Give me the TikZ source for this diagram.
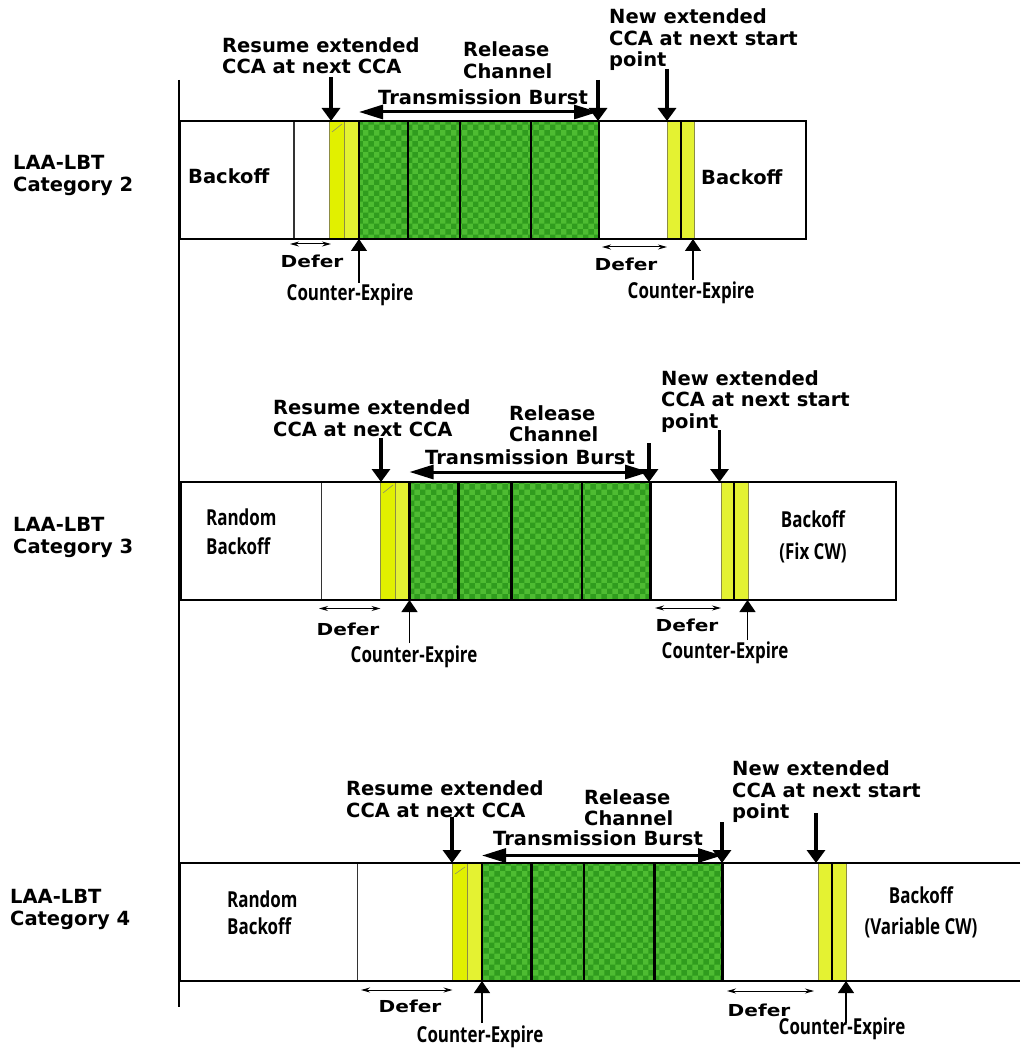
\documentclass[tikz,border=0pt]{standalone}
\usepackage{fontspec}
\setmainfont{DejaVu Sans}
\newfontfamily\cf[FakeStretch=0.77]{Open Sans}
\newfontfamily\wf[FakeStretch=1.22]{DejaVu Sans}
\usetikzlibrary{arrows.meta,patterns}
\definecolor{yA}{RGB}{225,240,0}
\definecolor{yB}{RGB}{228,242,50}
\definecolor{yE}{RGB}{140,140,70}
\definecolor{gL}{RGB}{78,188,50}
\definecolor{gD}{RGB}{48,156,30}
\tikzset{
  lbl/.style={font=\bfseries\fontsize{19.5}{21.5}\selectfont, inner sep=0pt, align=left},
  cat/.style={font=\bfseries\fontsize{19.5}{22}\selectfont, inner sep=0pt, align=left, anchor=west},
  dfr/.style={font=\wf\bfseries\fontsize{16.5}{20}\selectfont, inner sep=0pt},
  cnd/.style={font=\cf\bfseries\fontsize{22}{29}\selectfont, inner sep=0pt, align=center},
  rowline/.style={line width=2.5pt},
  thindiv/.style={line width=1.2pt, draw=black!80},
  ybarA/.style={fill=yA, draw=yE, line width=0.8pt},
  ybarB/.style={fill=yB, draw=yE, line width=0.8pt},
  greenblk/.style={fill=gL, postaction={pattern=checkerboard, pattern color=gD}},
  gline/.style={line width=2.5pt},
  downarr/.style={line width=3.5pt, -{Triangle[width=18pt,length=13pt]}},
  burst/.style={line width=3pt, {Triangle[width=14pt,length=24pt]}-{Triangle[width=14pt,length=24pt]}},
  uparr/.style={line width=1.2pt, -{Triangle[width=16pt,length=12pt]}},
  deferarr/.style={line width=1pt, {Stealth[length=9pt,width=5pt]}-{Stealth[length=9pt,width=5pt]}},
  hatch/.style={line width=0.5pt, draw=black!50},
}
\begin{document}
\begin{tikzpicture}[x=1pt,y=-1pt]
\useasboundingbox (0,0) rectangle (1020,1048);
\fill[white] (0,0) rectangle (1020,1048);

% ================= Row 1 : Category 2 =================
\fill[white] (180,121) rectangle (806,239);
\draw[thindiv] (294,121) -- (294,239);
\filldraw[ybarA] (329.5,121) rectangle (344.5,239);
\filldraw[ybarB] (344.5,121) rectangle (359,239);
\draw[hatch] (332,132) -- (342,124);
\fill[greenblk] (359,121) rectangle (599,239);
\draw[gline] (359,121) rectangle (599,239);
\foreach \x in {408,460,531} \draw[gline] (\x,121) -- (\x,239);
\filldraw[ybarB] (667,121) rectangle (694,239);
\draw[line width=1.5pt] (681,121) -- (681,239);
\draw[rowline] (180,121) rectangle (806,239);

\node[cat] (c2) at (13,175) {LAA-LBT\\Category 2};
\node[lbl, anchor=west] (b1l) at (188,176) {Backoff};
\node[lbl, anchor=west] (b1r) at (701,177) {Backoff};

\node[lbl, anchor=west] (rs1) at (222,55.5) {Resume extended\\CCA at next CCA};
\coordinate (rs1a) at (331,77); \coordinate (rs1b) at (331,121);
\draw[downarr] (rs1a) -- (rs1b);
\node[lbl, anchor=west] (rc1) at (463,60) {Release\\Channel};
\coordinate (rc1a) at (598,80); \coordinate (rc1b) at (598,121);
\draw[downarr] (rc1a) -- (rc1b);
\node[lbl] (tb1) at (483,97) {Transmission Burst};
\coordinate (tb1a) at (359,112); \coordinate (tb1b) at (598,112);
\draw[burst] (tb1a) -- (tb1b);
\node[lbl, anchor=west] (nw1) at (609,40) {New extended\\CCA at next start\\point};
\coordinate (nw1a) at (667,69); \coordinate (nw1b) at (667,121);
\draw[downarr] (nw1a) -- (nw1b);

\coordinate (d1a) at (290,244); \coordinate (d1b) at (331,244);
\draw[deferarr] (d1a) -- (d1b);
\node[dfr] (df1l) at (312,261) {Defer};
\coordinate (ce1a) at (359,283); \coordinate (ce1b) at (359,239);
\draw[uparr] (ce1a) -- (ce1b);
\node[cnd] (ce1l) at (350,295) {Counter-Expire};
\coordinate (d1c) at (602,247); \coordinate (d1d) at (667,247);
\draw[deferarr] (d1c) -- (d1d);
\node[dfr] (df1r) at (626,264) {Defer};
\coordinate (ce1c) at (693,280); \coordinate (ce1d) at (693,239);
\draw[uparr] (ce1c) -- (ce1d);
\node[cnd] (ce1r) at (691,293) {Counter-Expire};

% ================= Row 2 : Category 3 =================
\fill[white] (181,482) rectangle (896,600);
\draw[thindiv] (321.5,482) -- (321.5,600);
\filldraw[ybarA] (380,482) rectangle (395.5,600);
\filldraw[ybarB] (395.5,482) rectangle (409.5,600);
\draw[hatch] (383,493) -- (393,485);
\fill[greenblk] (409.5,482) rectangle (650.5,600);
\draw[gline] (409.5,482) rectangle (650.5,600);
\foreach \x in {458.5,511.5,582} \draw[gline] (\x,482) -- (\x,600);
\filldraw[ybarB] (721,482) rectangle (748,600);
\draw[line width=1.5pt] (734,482) -- (734,600);
\draw[rowline] (181,482) rectangle (896,600);

\node[cat] (c3) at (13,537) {LAA-LBT\\Category 3};
\node[cnd, anchor=west, align=left] (b2l) at (206,532) {Random\\Backoff};
\node[cnd, font=\cf\bfseries\fontsize{22}{31.5}\selectfont] (b2r) at (813,537) {Backoff\\(Fix CW)};

\node[lbl, anchor=west] (rs2) at (273,418) {Resume extended\\CCA at next CCA};
\coordinate (rs2a) at (381,438); \coordinate (rs2b) at (381,482);
\draw[downarr] (rs2a) -- (rs2b);
\node[lbl, anchor=west] (rc2) at (509,423.5) {Release\\Channel};
\coordinate (rc2a) at (649,443); \coordinate (rc2b) at (649,482);
\draw[downarr] (rc2a) -- (rc2b);
\node[lbl] (tb2) at (530,457.5) {Transmission Burst};
\coordinate (tb2a) at (409.5,472); \coordinate (tb2b) at (649,472);
\draw[burst] (tb2a) -- (tb2b);
\node[lbl, anchor=west] (nw2) at (661,401.5) {New extended\\CCA at next start\\point};
\coordinate (nw2a) at (719.5,430); \coordinate (nw2b) at (719.5,482);
\draw[downarr] (nw2a) -- (nw2b);

\coordinate (d2a) at (319,608.5); \coordinate (d2b) at (380.5,608.5);
\draw[deferarr] (d2a) -- (d2b);
\node[dfr] (df2l) at (348,629) {Defer};
\coordinate (ce2a) at (409.5,643); \coordinate (ce2b) at (409.5,600);
\draw[uparr] (ce2a) -- (ce2b);
\node[cnd] (ce2l) at (414,657) {Counter-Expire};
\coordinate (d2c) at (655,608); \coordinate (d2d) at (721,608);
\draw[deferarr] (d2c) -- (d2d);
\node[dfr] (df2r) at (687,625) {Defer};
\coordinate (ce2c) at (747.5,640); \coordinate (ce2d) at (747.5,600);
\draw[uparr] (ce2c) -- (ce2d);
\node[cnd] (ce2r) at (725,653) {Counter-Expire};

% ================= Row 3 : Category 4 =================
\draw[thindiv] (357.5,863) -- (357.5,981);
\filldraw[ybarA] (452.5,863) rectangle (467,981);
\filldraw[ybarB] (467,863) rectangle (482,981);
\draw[hatch] (455,874) -- (465,867);
\fill[greenblk] (482,863) rectangle (722.5,981);
\draw[gline] (482,863) rectangle (722.5,981);
\foreach \x in {531.5,584,654.5} \draw[gline] (\x,863) -- (\x,981);
\filldraw[ybarB] (818,863) rectangle (846,981);
\draw[line width=1.5pt] (832,863) -- (832,981);
\draw[rowline] (1020,863) -- (180,863) -- (180,981) -- (1020,981);

\node[cat] (c4) at (10,909) {LAA-LBT\\Category 4};
\node[cnd, anchor=west, align=left, font=\cf\bfseries\fontsize{22}{27}\selectfont] (b3l) at (227,913) {Random\\Backoff};
\node[cnd, font=\cf\bfseries\fontsize{22}{31}\selectfont] (b3r) at (921,912) {Backoff\\(Variable CW)};

\node[lbl, anchor=west] (rs3) at (346,799) {Resume extended\\CCA at next CCA};
\coordinate (rs3a) at (452,817); \coordinate (rs3b) at (452,863);
\draw[downarr] (rs3a) -- (rs3b);
\node[lbl, anchor=west] (rc3) at (584,807.5) {Release\\Channel};
\coordinate (rc3a) at (722,822); \coordinate (rc3b) at (722,863);
\draw[downarr] (rc3a) -- (rc3b);
\node[lbl] (tb3) at (598,838) {Transmission Burst};
\coordinate (tb3a) at (482,855.5); \coordinate (tb3b) at (722,855.5);
\draw[burst] (tb3a) -- (tb3b);
\node[lbl, anchor=west] (nw3) at (732,792) {New extended\\CCA at next start\\point};
\coordinate (nw3a) at (816,813); \coordinate (nw3b) at (816,863);
\draw[downarr] (nw3a) -- (nw3b);

\coordinate (d3a) at (361,990); \coordinate (d3b) at (452.5,990);
\draw[deferarr] (d3a) -- (d3b);
\node[dfr] (df3l) at (410,1006) {Defer};
\coordinate (ce3a) at (482,1023); \coordinate (ce3b) at (482,981);
\draw[uparr] (ce3a) -- (ce3b);
\node[cnd] (ce3l) at (480,1037) {Counter-Expire};
\coordinate (d3c) at (727,991); \coordinate (d3d) at (814,991);
\draw[deferarr] (d3c) -- (d3d);
\node[dfr] (df3r) at (759,1010) {Defer};
\coordinate (ce3c) at (846,1023); \coordinate (ce3d) at (846,981);
\draw[uparr] (ce3c) -- (ce3d);
\node[cnd] (ce3r) at (842,1029) {Counter-Expire};

% left vertical axis
\coordinate (axt) at (179,80); \coordinate (axb) at (179,1007);
\draw[line width=2pt] (axt) -- (axb);
\end{tikzpicture}
\end{document}
